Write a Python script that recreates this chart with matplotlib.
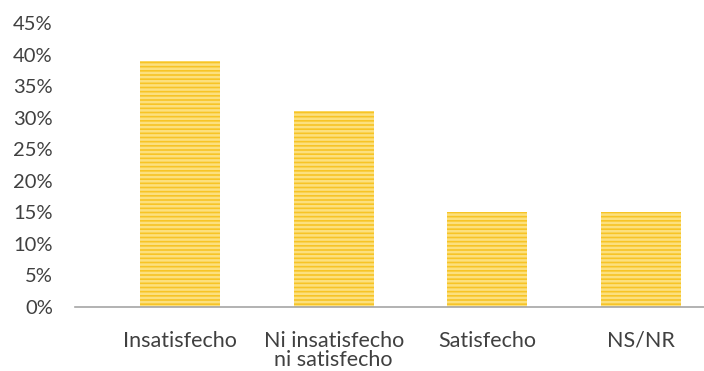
import matplotlib
matplotlib.use("Agg")
import matplotlib.pyplot as plt
from matplotlib.ticker import FuncFormatter

categories = ["Insatisfecho", "Ni insatisfecho\nni satisfecho", "Satisfecho", "NS/NR"]
values = [39, 31, 15, 15]
yticks = [0, 5, 10, 15, 20, 25, 30, 35, 40, 45]

plt.rcParams['font.family'] = ['Lato', 'DejaVu Sans']
plt.rcParams['hatch.linewidth'] = 1.8

fig = plt.figure(figsize=(7.04, 3.71), dpi=100)
ax = fig.add_axes([75/704, 1-307/371, (704-75)/704, (307-23)/371])

x = list(range(len(categories)))
ax.bar(x, values, width=0.52, color='#F7C426', linewidth=0, zorder=2)
ax.bar(x, values, width=0.52, facecolor='none', edgecolor='#FCE07E', hatch='----', linewidth=0, zorder=3)

ax.set_xlim(-0.684, 3.41)
ax.set_ylim(0, 45)
ax.set_yticks(yticks)
ax.yaxis.set_major_formatter(FuncFormatter(lambda v, p: f"{int(v)}%"))
ax.set_xticks(x)
ax.set_xticklabels(categories, fontsize=15.5, color='#404040', linespacing=0.95, ha='center', va='top')
ax.tick_params(axis='y', labelsize=14.5, labelcolor='#404040', length=0, pad=16)
ax.tick_params(axis='x', length=0, pad=17)
for s in ['top', 'right', 'left']:
    ax.spines[s].set_visible(False)
ax.spines['bottom'].set_color('#A6A6A6')
ax.spines['bottom'].set_linewidth(1.2)
ax.spines['bottom'].set_zorder(4)

fig.savefig("out.png", dpi=100)
